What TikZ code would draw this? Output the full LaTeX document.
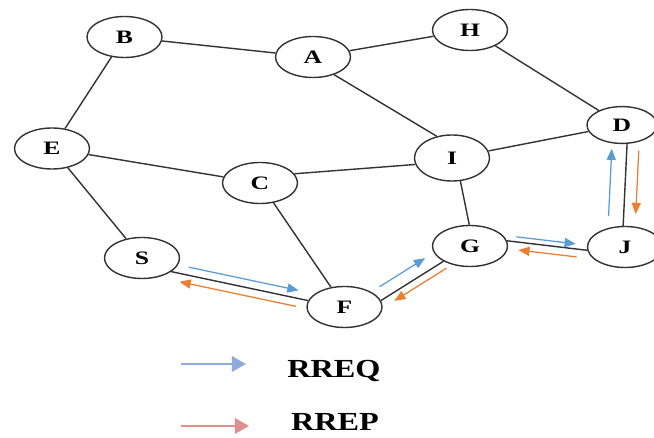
\documentclass[tikz,border=0pt]{standalone}
\usepackage{fontspec}
\usepackage{tikz}
\usepackage{xcolor}
\usetikzlibrary{shapes.geometric,arrows.meta}
\newfontfamily\nodefont{Liberation Serif}[FakeStretch=1.35]
\newfontfamily\keyfont{Liberation Serif}[FakeStretch=1.24]
\definecolor{reqblue}{HTML}{5B9BD5}
\definecolor{reporange}{HTML}{ED7D31}
\definecolor{keyblue}{HTML}{8FAADC}
\definecolor{keyred}{HTML}{DE8F8E}

\begin{document}
\begin{tikzpicture}[x=0.025cm, y=-0.025cm,
    station/.style={ellipse, draw=black!80, line width=1pt, minimum width=1.875cm, minimum height=1.025cm, inner sep=0pt, font=\nodefont\bfseries\fontsize{13.5}{15}\selectfont},
    link/.style={draw=black!80, line width=1pt},
    req/.style={reqblue, line width=0.9pt, -{Triangle[length=8pt,width=6.5pt]}, transform canvas={shift={#1}}},
    rep/.style={reporange, line width=0.9pt, -{Triangle[length=8pt,width=6.5pt]}, transform canvas={shift={#1}}},
    keyarrow/.style={line width=1.4pt, -{Triangle[length=10pt,width=11pt]}},
    keytext/.style={anchor=base, font=\keyfont\bfseries\fontsize{18.5}{20}\selectfont}]
                \useasboundingbox (0,0) rectangle (654,438);
                \node[station] (B) at (124.5,37) {B};
                \node[station] (A) at (313,57) {A};
                \node[station] (H) at (470,30) {H};
                \node[station] (E) at (52,148.5) {E};
                \node[station] (C) at (260,183) {C};
                \node[station, minimum height=1.15cm] (I) at (452,158) {I};
                \node[station, minimum width=1.75cm, minimum height=0.92cm] (D) at (622,125) {D};
                \node[station] (S) at (142,258) {S};
                \node[station] (F) at (344.5,307) {F};
                \node[station] (G) at (470,246) {G};
                \node[station] (J) at (625,247) {J};

                \draw[link] (B) -- (A);
                \draw[link] (A) -- (H);
                \draw[link] (B) -- (E);
                \draw[link] (A.-40) -- (I.125);
                \draw[link] (H) -- (D);
                \draw[link] (E) -- (C);
                \draw[link] (C.15) -- (I.190);
                \draw[link] (I) -- (D);
                \draw[link] (E) -- (S);
                \draw[link] (C) -- (F);
                \draw[link] (I.-70) -- (G.92);
                \draw[link] (D.285) -- (J.95);
                \draw[link] (S.-25) -- (F.170);
                \draw[link] (F.10) -- (G.210);
                \draw[link] (G.8) -- (J.185);

                % route request and route reply
                \draw[req={(1.7,-7.8)}, shorten <=11.4pt, shorten >=8.1pt] (S.-25) -- (F.170);
                \draw[rep={(-1.7,8)}, shorten <=7.6pt, shorten >=7.2pt] (F.170) -- (S.-25);
                \draw[req={(-6.5,-10.6)}, shorten <=4.3pt, shorten >=10pt] (F.10) -- (G.210);
                \draw[rep={(3.9,6.3)}, shorten <=0.8pt, shorten >=8pt] (G.210) -- (F.10);
                \draw[req={(0.55,-5)}, shorten <=6.3pt, shorten >=8.6pt] (G.8) -- (J.185);
                \draw[rep={(-0.9,7.8)}, shorten <=7pt, shorten >=8.7pt] (J.185) -- (G.8);
                \draw[req={(-15,-0.7)}, shorten <=6.4pt, shorten >=3.9pt] (J.95) -- (D.285);
                \draw[rep={(12,0.5)}, shorten <=4.4pt, shorten >=8.7pt] (D.285) -- (J.95);

                % key
                \node[keytext] (rreq) at (334,378) {RREQ};
                \node[keytext] (rrep) at (335,431) {RREP};
                \coordinate (q0) at (181,364);
                \coordinate (q1) at (246,364);
                \coordinate (p0) at (181,426);
                \coordinate (p1) at (249,426);
                \draw[keyarrow, keyblue] (q0) -- (q1);
                \draw[keyarrow, keyred] (p0) -- (p1);
            \end{tikzpicture}
\end{document}
